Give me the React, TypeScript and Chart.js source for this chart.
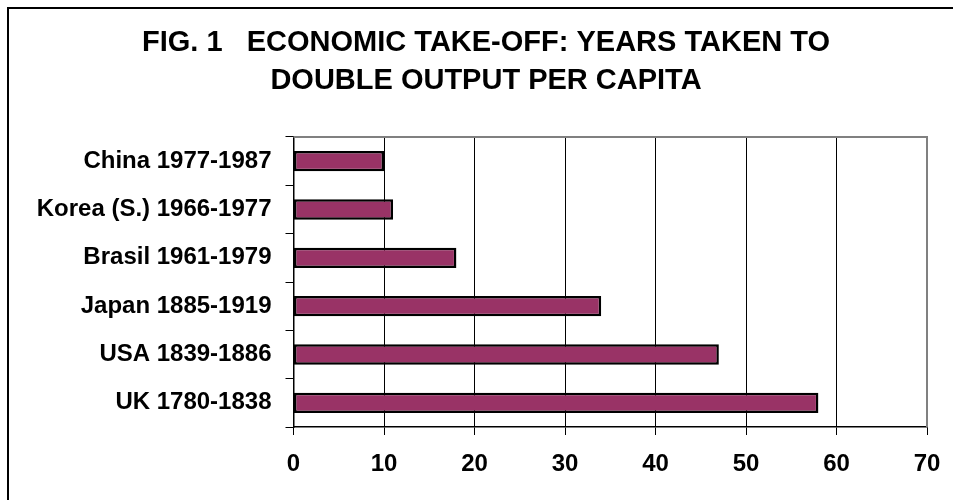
import React, { useEffect, useRef } from "react";
import { Chart, registerables } from "chart.js";

Chart.register(...registerables);

const categories = [
  "China 1977-1987",
  "Korea (S.) 1966-1977",
  "Brasil 1961-1979",
  "Japan 1885-1919",
  "USA 1839-1886",
  "UK 1780-1838",
];
const yearsToDouble = [10, 11, 18, 34, 47, 58];
const titleLines = ["FIG. 1   ECONOMIC TAKE-OFF: YEARS TAKEN TO", "DOUBLE OUTPUT PER CAPITA"];
const xMin = 0;
const xMax = 70;
const xStep = 10;

const FONT = "'Liberation Sans', Arial, Helvetica, sans-serif";

const plotBorder = {
  id: "plotBorder",
  afterDatasetsDraw(chart: any) {
    const { ctx, chartArea } = chart;
    ctx.save();
    ctx.strokeStyle = "#808080";
    ctx.lineWidth = 2;
    ctx.beginPath();
    ctx.moveTo(chartArea.left, chartArea.top);
    ctx.lineTo(chartArea.right, chartArea.top);
    ctx.lineTo(chartArea.right, chartArea.bottom);
    ctx.stroke();
    ctx.restore();
  },
};

const chartTitle = {
  id: "chartTitle",
  afterDraw(chart: any) {
    const { ctx } = chart;
    ctx.save();
    ctx.fillStyle = "#000";
    ctx.font = `bold 29px ${FONT}`;
    ctx.textAlign = "center";
    ctx.textBaseline = "middle";
    ctx.fillText(titleLines[0], 477, 34);
    ctx.fillText(titleLines[1], 477, 71.5);
    ctx.restore();
  },
};

export default function App() {
  const ref = useRef<HTMLCanvasElement | null>(null);

  useEffect(() => {
    if (!ref.current) return;
    const chart = new Chart(ref.current, {
      type: "bar",
      data: {
        labels: categories,
        datasets: [
          {
            data: yearsToDouble,
            backgroundColor: "#993366",
            borderColor: "#000000",
            borderWidth: 2.5,
            borderSkipped: false,
            categoryPercentage: 1,
            barPercentage: 0.42,
          },
        ],
      },
      options: {
        indexAxis: "y",
        responsive: false,
        animation: false,
        devicePixelRatio: 1,
        layout: { padding: { left: 0, right: 26, top: 128, bottom: 0 } },
        plugins: {
          legend: { display: false },
          tooltip: { enabled: false },
          title: { display: false },
        },
        scales: {
          x: {
            type: "linear",
            min: xMin,
            max: xMax,
            ticks: {
              stepSize: xStep,
              color: "#000",
              font: { family: FONT, size: 24, weight: "bold" },
              padding: 15,
            },
            grid: {
              color: "#000",
              lineWidth: 1,
              tickLength: 8,
              drawTicks: true,
            },
            border: { color: "#000", width: 1.5 },
            afterFit(scale: any) {
              scale.height = 73;
              scale.paddingRight = 0;
              scale.paddingLeft = 0;
            },
          },
          y: {
            type: "category",
            offset: true,
            ticks: {
              color: "#000",
              font: { family: FONT, size: 24, weight: "bold" },
              padding: 14,
            },
            grid: {
              offset: true,
              drawOnChartArea: false,
              drawTicks: true,
              tickLength: 8,
              color: "#000",
            },
            border: { color: "#000", width: 1.5 },
            afterFit(scale: any) {
              scale.width = 284.5;
            },
          },
        },
      },
      plugins: [plotBorder, chartTitle],
    } as any);
    return () => chart.destroy();
  }, []);

  return (
    <div
      style={{
        position: "absolute",
        left: 7,
        top: 7,
        width: 946,
        height: 493,
        boxSizing: "border-box",
        borderTop: "2px solid #000",
        borderLeft: "2px solid #000",
        background: "#fff",
      }}
    >
      <canvas ref={ref} width={944} height={491} style={{ display: "block" }} />
    </div>
  );
}
